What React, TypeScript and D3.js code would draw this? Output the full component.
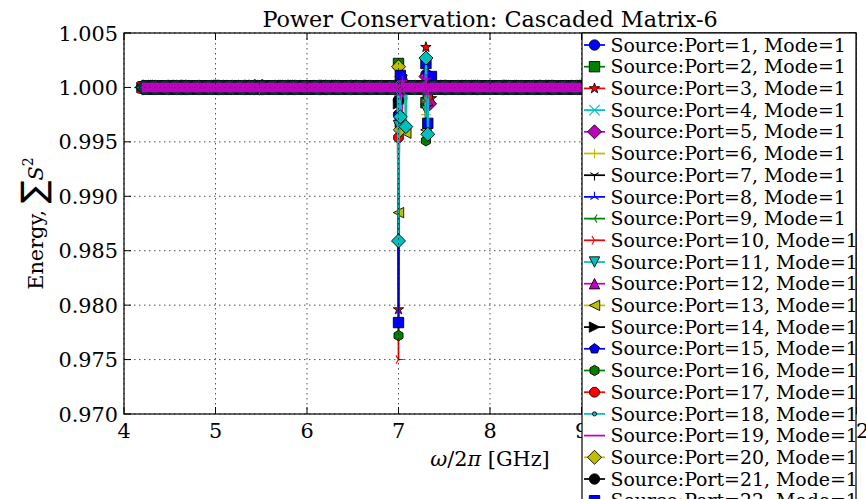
import React from "react";
import * as d3 from "d3";

// ---------- data ----------
const xTickValues = [4, 5, 6, 7, 8, 9, 10, 11, 12];
const xTickLabels = ["4", "5", "6", "7", "8", "9", "10", "11", "12"];
const yTickValues = [0.97, 0.975, 0.98, 0.985, 0.99, 0.995, 1.0, 1.005];
const yTickLabels = ["0.970", "0.975", "0.980", "0.985", "0.990", "0.995", "1.000", "1.005"];

// measurement sweep (GHz)
const sweepFrequencies: number[] = d3
  .range(4.2, 12.0001, 0.01)
  .map((f) => Math.round(f * 100) / 100);
// energy reads flat at 1.000 outside the resonances
const flatEnergy = 1.0;

const portNumbers = d3.range(1, 27);
const portColors = [
  "b", "g", "r", "c", "m", "y", "k", "b", "g", "r", "c", "m", "y",
  "k", "b", "g", "r", "c", "m", "y", "k", "b", "g", "r", "c", "m",
];
const portMarkers = [
  "o", "s", "*", "x", "D", "+", "1", "2", "3", "4", "v", "^", "<",
  ">", "p", "h", "8", ".", "", "D", "o", "s", "*", "x", "D", "+",
];
// deviations from the flat level, [frequency GHz, energy]
const portDeviations: [number, number][][] = [
  [[7.0, 0.9975], [7.3, 1.0012]],
  [[7.0, 1.0022], [7.02, 0.9968], [7.3, 0.9986]],
  [[7.0, 0.9796], [7.3, 1.0037], [7.36, 0.999]],
  [[7.02, 1.0008], [7.32, 0.9992]],
  [[7.02, 0.999], [7.3, 1.001], [7.34, 0.9985]],
  [[7.0, 1.001], [7.3, 0.9975]],
  [[5.45, 1.0004], [5.47, 1.0005], [7.0, 0.999]],
  [[7.0, 0.997], [7.3, 1.001]],
  [[7.02, 0.9985]],
  [[7.0, 0.975]],
  [[7.0, 0.9965], [7.3, 0.998]],
  [[7.04, 1.0012], [7.32, 0.9988]],
  [[7.0, 0.9885], [7.08, 0.9958], [7.3, 0.9961]],
  [[7.0, 0.9985]],
  [[7.04, 1.001], [7.32, 1.0012]],
  [[7.0, 0.9772], [7.3, 0.9951]],
  [[7.0, 0.9954], [7.32, 0.9992]],
  [[7.0, 0.996], [7.3, 0.997]],
  [[7.04, 0.9978], [7.3, 1.0015], [7.32, 0.9985]],
  [[7.0, 1.0019], [7.02, 0.9961]],
  [[7.0, 0.9988]],
  [[7.0, 0.9784], [7.02, 1.0011], [7.3, 1.0022], [7.32, 0.9967], [7.36, 1.001]],
  [[7.0, 0.9975]],
  [[7.32, 0.999]],
  [[7.0, 0.9859], [7.02, 0.9973], [7.08, 0.9964], [7.3, 1.0027], [7.32, 0.9957]],
  [[5.48, 0.9997], [7.02, 0.9993], [7.04, 1.0006], [7.3, 1.0008], [7.32, 0.9994]],
];

const colorMap: Record<string, string> = {
  b: "#0000ff",
  g: "#008000",
  r: "#ff0000",
  c: "#00bfbf",
  m: "#bf00bf",
  y: "#bfbf00",
  k: "#000000",
};

// ---------- layout ----------
const W = 866;
const H = 499;
const L = 124;
const R = 856;
const T = 33;
const B = 414;
const FONT = "'DejaVu Serif', serif";
const MS = 10.4;

const x = d3.scaleLinear().domain([4, 12]).range([L, R]);
const y = d3.scaleLinear().domain([0.97, 1.005]).range([B, T]);

type Geom = { d: string; filled: boolean };

function f2(v: number) {
  return v.toFixed(2);
}
function poly(pts: [number, number][]): string {
  return "M" + pts.map((p) => f2(p[0]) + "," + f2(p[1])).join("L") + "Z";
}
function regular(n: number, r: number, cx: number, cy: number, rot = 0): string {
  const pts: [number, number][] = [];
  for (let i = 0; i < n; i++) {
    const a = ((-90 + rot + (i * 360) / n) * Math.PI) / 180;
    pts.push([cx + r * Math.cos(a), cy + r * Math.sin(a)]);
  }
  return poly(pts);
}
function circle(cx: number, cy: number, r: number): string {
  return `M${f2(cx + r)},${f2(cy)}A${r},${r} 0 1 0 ${f2(cx - r)},${f2(cy)}A${r},${r} 0 1 0 ${f2(cx + r)},${f2(cy)}Z`;
}
function spokes(cx: number, cy: number, v: [number, number][]): string {
  return v.map((p) => `M${f2(cx)},${f2(cy)}L${f2(cx + p[0])},${f2(cy + p[1])}`).join("");
}

function markerGeom(kind: string, cx: number, cy: number): Geom | null {
  const h = MS / 2;
  switch (kind) {
    case "o":
      return { d: circle(cx, cy, h), filled: true };
    case ".":
      return { d: circle(cx, cy, h * 0.4), filled: true };
    case "s":
      return { d: poly([[cx - h, cy - h], [cx + h, cy - h], [cx + h, cy + h], [cx - h, cy + h]]), filled: true };
    case "D": {
      const q = h * 1.35;
      return { d: poly([[cx, cy - q], [cx + q, cy], [cx, cy + q], [cx - q, cy]]), filled: true };
    }
    case "*": {
      const pts: [number, number][] = [];
      for (let i = 0; i < 10; i++) {
        const r = i % 2 === 0 ? h * 1.05 : h * 1.05 * 0.381966;
        const a = ((-90 + i * 36) * Math.PI) / 180;
        pts.push([cx + r * Math.cos(a), cy + r * Math.sin(a)]);
      }
      return { d: poly(pts), filled: true };
    }
    case "^":
      return { d: poly([[cx, cy - h], [cx + h, cy + h], [cx - h, cy + h]]), filled: true };
    case "v":
      return { d: poly([[cx, cy + h], [cx + h, cy - h], [cx - h, cy - h]]), filled: true };
    case "<":
      return { d: poly([[cx - h, cy], [cx + h, cy - h], [cx + h, cy + h]]), filled: true };
    case ">":
      return { d: poly([[cx + h, cy], [cx - h, cy - h], [cx - h, cy + h]]), filled: true };
    case "p":
      return { d: regular(5, h, cx, cy), filled: true };
    case "h":
      return { d: regular(6, h, cx, cy), filled: true };
    case "8":
      return { d: regular(8, h, cx, cy, 22.5), filled: true };
    case "x":
      return {
        d: `M${f2(cx - h)},${f2(cy - h)}L${f2(cx + h)},${f2(cy + h)}M${f2(cx - h)},${f2(cy + h)}L${f2(cx + h)},${f2(cy - h)}`,
        filled: false,
      };
    case "+": {
      const p = h * 0.92;
      return {
        d: `M${f2(cx - p)},${f2(cy)}L${f2(cx + p)},${f2(cy)}M${f2(cx)},${f2(cy - p)}L${f2(cx)},${f2(cy + p)}`,
        filled: false,
      };
    }
    case "1":
      return { d: spokes(cx, cy, [[0, h], [0.8 * h, -0.5 * h], [-0.8 * h, -0.5 * h]]), filled: false };
    case "2":
      return { d: spokes(cx, cy, [[0, -h], [0.8 * h, 0.5 * h], [-0.8 * h, 0.5 * h]]), filled: false };
    case "3":
      return { d: spokes(cx, cy, [[-h, 0], [0.5 * h, -0.8 * h], [0.5 * h, 0.8 * h]]), filled: false };
    case "4":
      return { d: spokes(cx, cy, [[h, 0], [-0.5 * h, -0.8 * h], [-0.5 * h, 0.8 * h]]), filled: false };
    default:
      return null;
  }
}

function Marker({ kind, cx, cy, color }: { kind: string; cx: number; cy: number; color: string }) {
  const g = markerGeom(kind, cx, cy);
  if (!g) return null;
  return g.filled ? (
    <path d={g.d} fill={color} stroke="#000" strokeWidth={0.87} />
  ) : (
    <path d={g.d} fill="none" stroke={color} strokeWidth={1.1} />
  );
}

type Series = { port: number; color: string; marker: string; values: [number, number][] };

const series: Series[] = portNumbers.map((p, i) => {
  const dev = portDeviations[i];
  const values: [number, number][] = sweepFrequencies.map((f) => {
    const hit = dev.find((d) => Math.abs(d[0] - f) < 1e-6);
    return [f, hit ? hit[1] : flatEnergy];
  });
  return { port: p, color: colorMap[portColors[i]], marker: portMarkers[i], values };
});

const lineGen = d3
  .line<[number, number]>()
  .x((d) => x(d[0]))
  .y((d) => y(d[1]));

function SeriesMarkers({ s }: { s: Series }) {
  if (!s.marker) return null;
  const probe = markerGeom(s.marker, 0, 0);
  if (probe && !probe.filled) {
    // unfilled markers: one stroked path, paint order does not matter
    const d = s.values.map((v) => markerGeom(s.marker, x(v[0]), y(v[1]))!.d).join("");
    return <path d={d} fill="none" stroke={s.color} strokeWidth={1.1} />;
  }
  return (
    <>
      {s.values.map((v, j) => (
        <Marker key={j} kind={s.marker} cx={x(v[0])} cy={y(v[1])} color={s.color} />
      ))}
    </>
  );
}

export default function App() {
  const legendX = 582;
  const legendTop = T;
  const rowH = 21.7;
  const firstRow = 45;
  return (
    <svg width={W} height={H} style={{ position: "absolute", left: 0, top: 0 }} fontFamily={FONT}>
      <defs>
        <clipPath id="axclip">
          <rect x={L} y={T} width={R - L} height={B - T} />
        </clipPath>
      </defs>
      <rect x={0} y={0} width={W} height={H} fill="#fff" />
      <rect x={L} y={T} width={R - L} height={B - T} fill="#fff" />

      {/* data */}
      <g clipPath="url(#axclip)">
        {series.map((s) => (
          <g key={"s" + s.port}>
            <path d={lineGen(s.values) || ""} fill="none" stroke={s.color} strokeWidth={1.74} strokeLinejoin="round" />
            <SeriesMarkers s={s} />
          </g>
        ))}
      </g>

      {/* grid (drawn above the data, classic style) */}
      <g stroke="#000" strokeWidth={0.9} strokeDasharray="1.5,3.5" opacity={0.75}>
        {xTickValues.map((v) => (
          <line key={"gx" + v} x1={x(v)} x2={x(v)} y1={T} y2={B} />
        ))}
        {yTickValues.map((v) => (
          <line key={"gy" + v} x1={L} x2={R} y1={y(v)} y2={y(v)} />
        ))}
      </g>

      {/* ticks */}
      <g stroke="#000" strokeWidth={1}>
        {xTickValues.map((v) => (
          <g key={"tx" + v}>
            <line x1={x(v)} x2={x(v)} y1={B} y2={B - 7} />
            <line x1={x(v)} x2={x(v)} y1={T} y2={T + 7} />
          </g>
        ))}
        {yTickValues.map((v) => (
          <g key={"ty" + v}>
            <line x1={L} x2={L + 7} y1={y(v)} y2={y(v)} />
            <line x1={R} x2={R - 7} y1={y(v)} y2={y(v)} />
          </g>
        ))}
      </g>
      <rect x={L} y={T} width={R - L} height={B - T} fill="none" stroke="#000" strokeWidth={1.2} />

      {/* tick labels */}
      <g fontSize={20.8} fill="#000">
        {xTickValues.map((v, i) => (
          <text key={"lx" + v} x={x(v)} y={438} textAnchor="middle">
            {xTickLabels[i]}
          </text>
        ))}
        {yTickValues.map((v, i) => (
          <text key={"ly" + v} x={L - 6} y={y(v) + 7.5} textAnchor="end">
            {yTickLabels[i]}
          </text>
        ))}
      </g>

      {/* title & labels */}
      <text x={(L + R) / 2} y={27} textAnchor="middle" fontSize={22.3}>
        Power Conservation: Cascaded Matrix-6
      </text>
      <text x={(L + R) / 2} y={466} textAnchor="middle" fontSize={20.8}>
        <tspan fontStyle="italic">ω</tspan>/2<tspan fontStyle="italic">π</tspan> [GHz]
      </text>
      <text transform={`translate(43,${(T + B) / 2}) rotate(-90)`} textAnchor="middle" fontSize={20.8}>
        Energy,{" "}
        <tspan fontFamily="'DejaVu Sans', sans-serif" fontSize={34} dy={2}>
          ∑
        </tspan>
        <tspan fontStyle="italic" dy={-2}>
          S
        </tspan>
        <tspan fontSize={14} dy={-10}>
          2
        </tspan>
      </text>

      {/* legend */}
      <g>
        <rect
          x={legendX}
          y={legendTop}
          width={R - legendX}
          height={firstRow - legendTop + rowH * series.length + 10}
          fill="#fff"
          stroke="#000"
          strokeWidth={1.2}
        />
        {series.map((s, i) => {
          const cy = firstRow + i * rowH;
          return (
            <g key={"lg" + s.port}>
              <line x1={584} x2={605} y1={cy} y2={cy} stroke={s.color} strokeWidth={1.74} />
              {s.marker && <Marker kind={s.marker} cx={594.5} cy={cy} color={s.color} />}
              <text x={610.5} y={cy + 6.6} fontSize={18.9} fill="#000">
                {`Source:Port=${s.port}, Mode=1`}
              </text>
            </g>
          );
        })}
      </g>
    </svg>
  );
}
